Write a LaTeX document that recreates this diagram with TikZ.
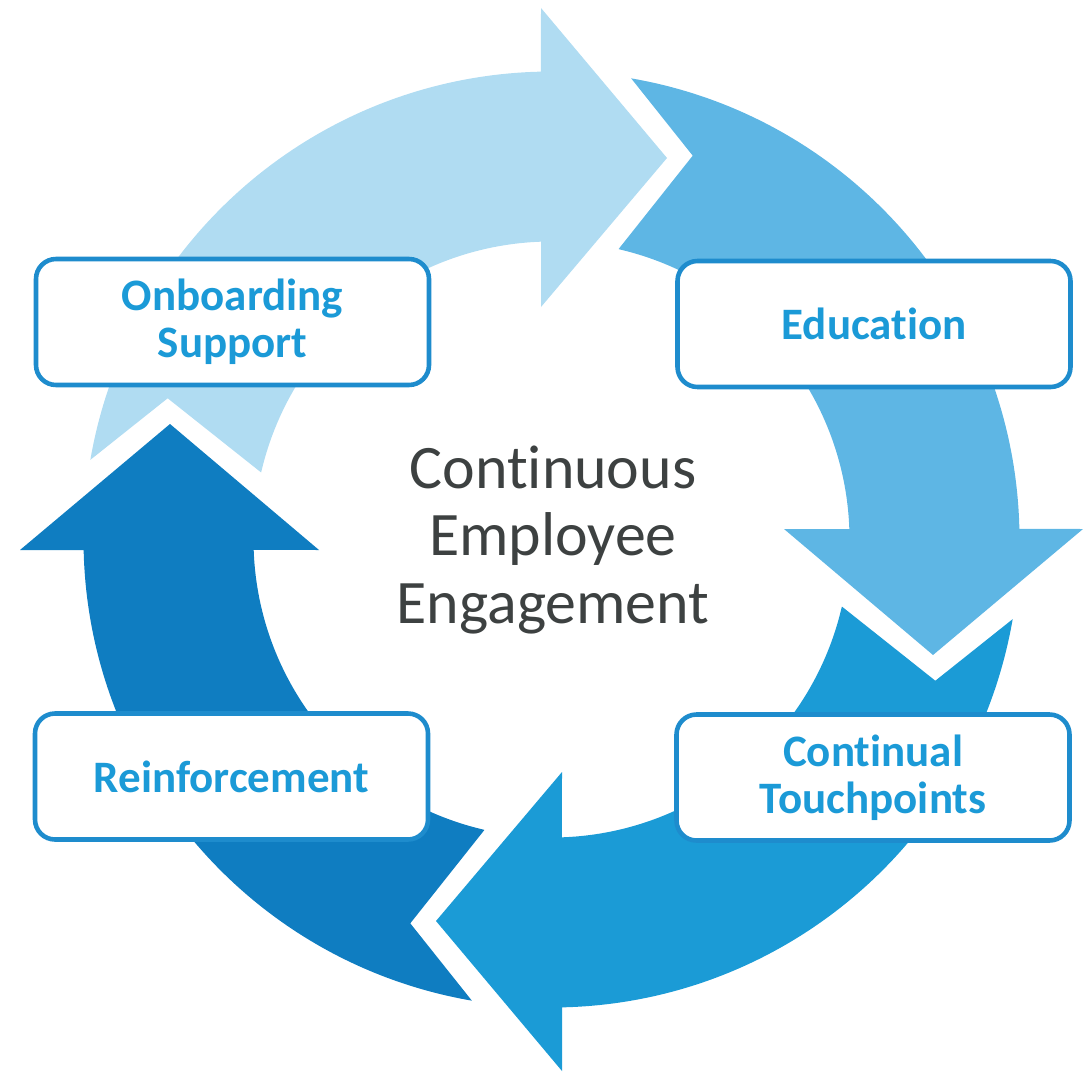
\documentclass[tikz,border=0pt]{standalone}
\usepackage{fontspec}
\setmainfont{Carlito}[Ligatures=NoCommon]
\definecolor{cycleA}{HTML}{B0DCF2}
\definecolor{cycleB}{HTML}{5EB6E4}
\definecolor{cycleC}{HTML}{1B9BD6}
\definecolor{cycleD}{HTML}{0F7DC1}
\definecolor{boxline}{HTML}{1E8CCD}
\definecolor{labelblue}{HTML}{1B9AD7}
\definecolor{coretext}{HTML}{3D4141}

\begin{document}
\begin{tikzpicture}[
  every node/.style = {align=center},
  stagebox/.style = {draw=boxline, line width=1.3pt, fill=white,
    rounded corners=0.2cm, minimum width=3.93cm, minimum height=1.26cm,
    text=labelblue, font=\bfseries\fontsize{12.8}{13.4}\selectfont}]

\useasboundingbox (0,0) rectangle (10.83,10.73);

% the four curved arrows of the cycle
\foreach \ang/\col in {0/cycleA, -90/cycleB, -180/cycleC, -270/cycleD}
  \fill[\col, shift={(5.515,5.335)}, rotate=\ang]
    (170.2:4.68) arc[start angle=170.2, end angle=91.3, radius=4.68]
    -- (-0.105,5.315) -- (1.155,3.815) -- (-0.105,2.325)
    -- (92.0:2.98) arc[start angle=92.0, end angle=167.0, radius=2.98]
    -- (159.8:4.09) -- cycle;

\node[font=\fontsize{17.6}{19.3}\selectfont, text=coretext] (core) at (5.53,5.33)
  {Continuous\\Employee\\Engagement};

\node[stagebox] (onboard) at (2.325,7.51) {Onboarding\\Support};
\node[stagebox] (educ) at (8.74,7.49) {Education};
\node[stagebox] (touch) at (8.73,2.955) {Continual\\Touchpoints};
\node[stagebox] (reinf) at (2.315,2.965) {Reinforcement};
\end{tikzpicture}
\end{document}
